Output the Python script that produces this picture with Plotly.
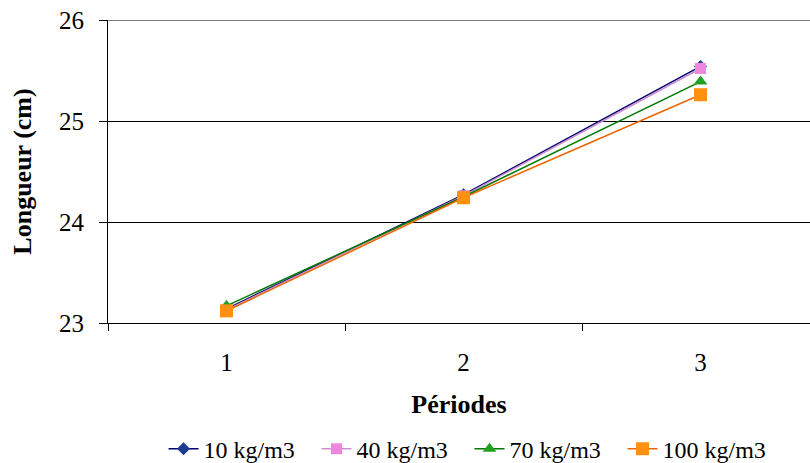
import plotly.graph_objects as go

periodes = [1, 2, 3]
series_names = ["10 kg/m3", "40 kg/m3", "70 kg/m3", "100 kg/m3"]
v10 = [23.14, 24.27, 25.54]
v40 = [23.13, 24.26, 25.52]
v70 = [23.17, 24.25, 25.39]
v100 = [23.12, 24.24, 25.26]

styles = [
    dict(line="#000070", marker="#1F3A93", symbol="diamond", size=10),
    dict(line="#CC8FCC", marker="#EE88DD", symbol="square", size=11),
    dict(line="#007A00", marker="#22A022", symbol="triangle-up", size=12),
    dict(line="#EE6600", marker="#FF9010", symbol="square", size=13),
]

fig = go.Figure()
for name, vals, st in zip(series_names, [v10, v40, v70, v100], styles):
    fig.add_trace(go.Scatter(
        x=periodes, y=vals, name=name, mode="lines+markers",
        line=dict(color=st["line"], width=1.5),
        marker=dict(color=st["marker"], symbol=st["symbol"], size=st["size"]),
    ))

font = "Liberation Serif"
fig.update_layout(
    width=810, height=463,
    margin=dict(l=108, r=0, t=20, b=140),
    paper_bgcolor="white", plot_bgcolor="white",
    font=dict(family=font, size=25, color="black"),
    showlegend=True,
    legend=dict(orientation="h", x=0.515, xanchor="center", xref="paper",
                yref="container", y=0.03, yanchor="middle", entrywidth=108,
                font=dict(size=24, family=font), tracegroupgap=0),
    xaxis=dict(
        range=[0.5, 3.462], tickmode="array", tickvals=periodes,
        ticktext=[str(p) for p in periodes], ticks="", showgrid=False, automargin=False,
        ticklabelstandoff=17,
        showline=True, linecolor="black", linewidth=1, zeroline=False,
        minor=dict(tickmode="array", tickvals=[0.5, 1.5, 2.5, 3.5], ticks="outside",
                   ticklen=7, tickcolor="black", showgrid=False),
        title=dict(text="<b>Périodes</b>", font=dict(size=26, family=font), standoff=19),
        tickfont=dict(size=25, family=font),
    ),
    yaxis=dict(
        range=[23, 26], tickvals=[23, 24, 25, 26], ticks="outside", ticklen=8,
        tickcolor="black", showgrid=True, gridcolor="black", gridwidth=1, automargin=False,
        ticklabelstandoff=10,
        showline=True, linecolor="black", linewidth=1, zeroline=False,
        title=dict(text="<b>Longueur (cm)</b>", font=dict(size=26, family=font), standoff=19),
        tickfont=dict(size=25, family=font),
    ),
    shapes=[dict(type="line", xref="paper", yref="y", x0=0, x1=1, y0=26, y1=26,
                 line=dict(color="black", width=1))],
)

fig.write_html("out.html")
